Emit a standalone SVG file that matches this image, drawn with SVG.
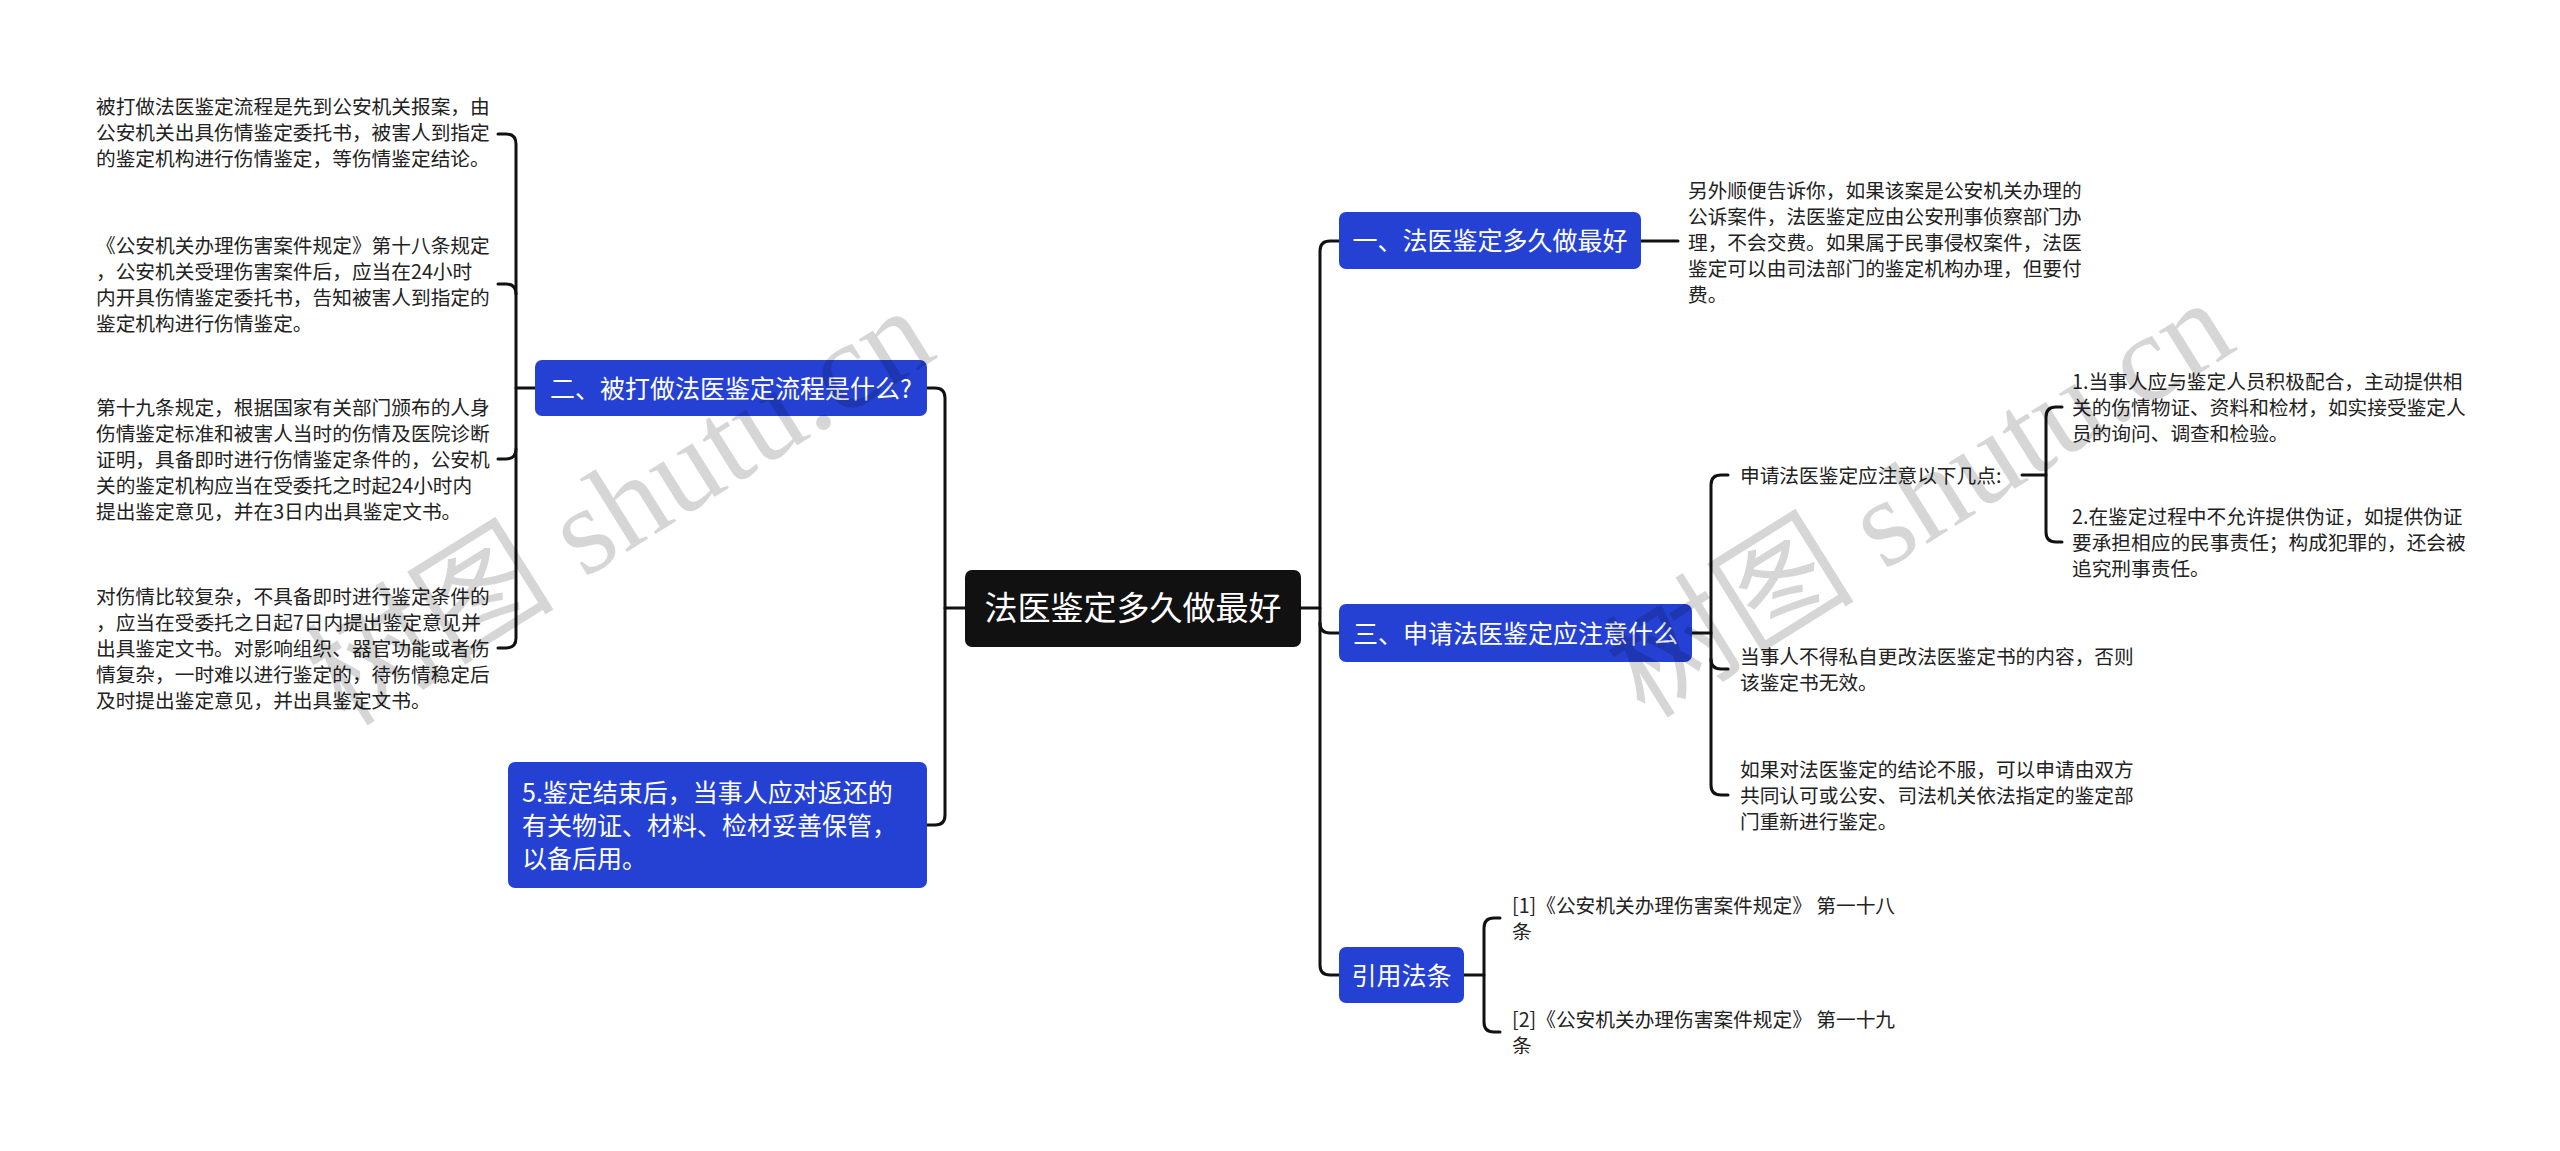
<svg xmlns="http://www.w3.org/2000/svg" width="2560" height="1151" viewBox="0 0 2560 1151">
<style>
.bg{fill:#ffffff}
.topic{fill:#2541d4}
.root{fill:#111111}
.conn{fill:none;stroke:#111111;stroke-width:3;stroke-linecap:round;stroke-linejoin:round}
.t{font-family:"Noto Sans CJK SC","Noto Sans",sans-serif;font-size:19.7px;fill:#222222}
.tw{font-family:"Noto Sans CJK SC","Noto Sans",sans-serif;font-size:25px;fill:#ffffff}
.tr{font-family:"Noto Sans CJK SC","Noto Sans",sans-serif;font-size:33px;fill:#ffffff}
.wm{font-family:"Liberation Serif","Noto Sans CJK SC",serif;font-size:125px;fill:#000000;fill-opacity:0.16}
</style>
<rect class="bg" x="0" y="0" width="2560" height="1151"/>

<g id="connectors">
  <!-- root to trunks -->
  <path class="conn" d="M965,608 H945"/>
  <path class="conn" d="M1301,608 H1320"/>
  <!-- left trunk -->
  <path class="conn" d="M927,388 H935 Q945,388 945,398 V815 Q945,825 935,825 H927"/>
  <!-- right trunk -->
  <path class="conn" d="M1339,241 H1330 Q1320,241 1320,251 V965 Q1320,975 1330,975 H1339"/>
  <path class="conn" d="M1339,633 H1330 Q1320,633 1320,623"/>
  <!-- topic 二 bracket -->
  <path class="conn" d="M535,388 H516"/>
  <path class="conn" d="M498,134 H506 Q516,134 516,144 V638 Q516,648 506,648 H498"/>
  <path class="conn" d="M498,284 H506 Q516,284 516,294"/>
  <path class="conn" d="M498,459 H506 Q516,459 516,449"/>
  <!-- topic 一 -->
  <path class="conn" d="M1641,241 H1678"/>
  <!-- topic 三 bracket -->
  <path class="conn" d="M1692,633 H1711"/>
  <path class="conn" d="M1728,475 H1721 Q1711,475 1711,485 V785 Q1711,795 1721,795 H1728"/>
  <path class="conn" d="M1728,669 H1721 Q1711,669 1711,659"/>
  <!-- sub bracket -->
  <path class="conn" d="M2022,475 H2046"/>
  <path class="conn" d="M2062,407 H2056 Q2046,407 2046,417 V532 Q2046,542 2056,542 H2062"/>
  <!-- 引用法条 bracket -->
  <path class="conn" d="M1464,975 H1484"/>
  <path class="conn" d="M1500,918 H1494 Q1484,918 1484,928 V1022 Q1484,1032 1494,1032 H1500"/>
</g>

<g id="root">
  <rect class="root" x="965" y="570" width="336" height="77" rx="7"/>
  <text class="tr" x="1133" y="620" text-anchor="middle">法医鉴定多久做最好</text>
</g>

<g id="topic2">
  <rect class="topic" x="535" y="360" width="392" height="56" rx="7"/>
  <text class="tw" x="731" y="397.5" text-anchor="middle">二、被打做法医鉴定流程是什么?</text>
</g>
<g id="t2a">
  <text class="t" x="96" y="113.5"><tspan x="96">被打做法医鉴定流程是先到公安机关报案，由</tspan><tspan x="96" dy="26">公安机关出具伤情鉴定委托书，被害人到指定</tspan><tspan x="96" dy="26">的鉴定机构进行伤情鉴定，等伤情鉴定结论。</tspan></text>
</g>
<g id="t2b">
  <text class="t" x="96" y="252.5"><tspan x="96">《公安机关办理伤害案件规定》第十八条规定</tspan><tspan x="96" dy="26">，公安机关受理伤害案件后，应当在24小时</tspan><tspan x="96" dy="26">内开具伤情鉴定委托书，告知被害人到指定的</tspan><tspan x="96" dy="26">鉴定机构进行伤情鉴定。</tspan></text>
</g>
<g id="t2c">
  <text class="t" x="96" y="414.5"><tspan x="96">第十九条规定，根据国家有关部门颁布的人身</tspan><tspan x="96" dy="26">伤情鉴定标准和被害人当时的伤情及医院诊断</tspan><tspan x="96" dy="26">证明，具备即时进行伤情鉴定条件的，公安机</tspan><tspan x="96" dy="26">关的鉴定机构应当在受委托之时起24小时内</tspan><tspan x="96" dy="26">提出鉴定意见，并在3日内出具鉴定文书。</tspan></text>
</g>
<g id="t2d">
  <text class="t" x="96" y="603.5"><tspan x="96">对伤情比较复杂，不具备即时进行鉴定条件的</tspan><tspan x="96" dy="26">，应当在受委托之日起7日内提出鉴定意见并</tspan><tspan x="96" dy="26">出具鉴定文书。对影响组织、器官功能或者伤</tspan><tspan x="96" dy="26">情复杂，一时难以进行鉴定的，待伤情稳定后</tspan><tspan x="96" dy="26">及时提出鉴定意见，并出具鉴定文书。</tspan></text>
</g>

<g id="topic5">
  <rect class="topic" x="508" y="762" width="419" height="126" rx="7"/>
  <text class="tw" x="522" y="801.5"><tspan x="522">5.鉴定结束后，当事人应对返还的</tspan><tspan x="522" dy="33">有关物证、材料、检材妥善保管，</tspan><tspan x="522" dy="33">以备后用。</tspan></text>
</g>

<g id="topic1">
  <rect class="topic" x="1339" y="212" width="302" height="57" rx="7"/>
  <text class="tw" x="1490" y="250" text-anchor="middle">一、法医鉴定多久做最好</text>
</g>
<g id="t1a">
  <text class="t" x="1688" y="197.5"><tspan x="1688">另外顺便告诉你，如果该案是公安机关办理的</tspan><tspan x="1688" dy="26">公诉案件，法医鉴定应由公安刑事侦察部门办</tspan><tspan x="1688" dy="26">理，不会交费。如果属于民事侵权案件，法医</tspan><tspan x="1688" dy="26">鉴定可以由司法部门的鉴定机构办理，但要付</tspan><tspan x="1688" dy="26">费。</tspan></text>
</g>

<g id="topic3">
  <rect class="topic" x="1339" y="604" width="353" height="58" rx="7"/>
  <text class="tw" x="1515.5" y="642.5" text-anchor="middle">三、申请法医鉴定应注意什么</text>
</g>
<g id="t3a">
  <text class="t" x="1740" y="482.5">申请法医鉴定应注意以下几点:</text>
</g>
<g id="t3a1">
  <text class="t" x="2072" y="388.5"><tspan x="2072">1.当事人应与鉴定人员积极配合，主动提供相</tspan><tspan x="2072" dy="26">关的伤情物证、资料和检材，如实接受鉴定人</tspan><tspan x="2072" dy="26">员的询问、调查和检验。</tspan></text>
</g>
<g id="t3a2">
  <text class="t" x="2072" y="523.5"><tspan x="2072">2.在鉴定过程中不允许提供伪证，如提供伪证</tspan><tspan x="2072" dy="26">要承担相应的民事责任；构成犯罪的，还会被</tspan><tspan x="2072" dy="26">追究刑事责任。</tspan></text>
</g>
<g id="t3b">
  <text class="t" x="1740" y="663.5"><tspan x="1740">当事人不得私自更改法医鉴定书的内容，否则</tspan><tspan x="1740" dy="26">该鉴定书无效。</tspan></text>
</g>
<g id="t3c">
  <text class="t" x="1740" y="776.5"><tspan x="1740">如果对法医鉴定的结论不服，可以申请由双方</tspan><tspan x="1740" dy="26">共同认可或公安、司法机关依法指定的鉴定部</tspan><tspan x="1740" dy="26">门重新进行鉴定。</tspan></text>
</g>

<g id="topic4">
  <rect class="topic" x="1339" y="947" width="125" height="56" rx="7"/>
  <text class="tw" x="1401.5" y="984.5" text-anchor="middle">引用法条</text>
</g>
<g id="t4a">
  <text class="t" x="1512" y="912.5"><tspan x="1512">[1]《公安机关办理伤害案件规定》 第一十八</tspan><tspan x="1512" dy="26">条</tspan></text>
</g>
<g id="t4b">
  <text class="t" x="1512" y="1026.5"><tspan x="1512">[2]《公安机关办理伤害案件规定》 第一十九</tspan><tspan x="1512" dy="26">条</tspan></text>
</g>

<g id="watermarks">
  <text class="wm" x="345" y="728" transform="rotate(-32 345 728)">树图 shutu.cn</text>
  <text class="wm" x="1645" y="720" transform="rotate(-32 1645 720)">树图 shutu.cn</text>
</g>
</svg>
